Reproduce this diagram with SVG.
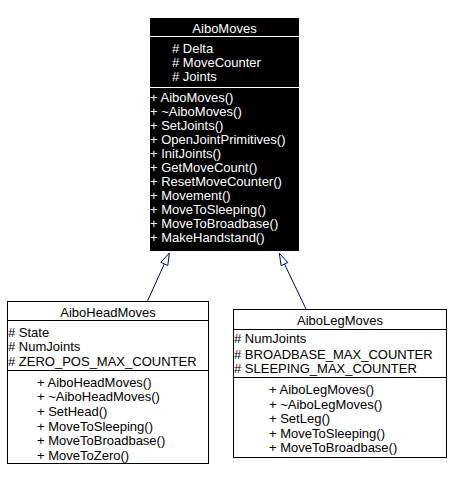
<svg xmlns="http://www.w3.org/2000/svg" width="452" height="481" viewBox="0 0 452 481">
<style>
text{font-family:"Liberation Sans",Arial,sans-serif;font-size:13px}
.w{fill:#ffffff}
.k{fill:#000000}
.c{text-anchor:middle}
.box{fill:#ffffff;stroke:#000000;stroke-width:1}
.sep{stroke:#000000;stroke-width:1}
.sepw{stroke:#ffffff;stroke-width:1}
.edge{stroke:#000080;stroke-width:1;fill:none}
.head{stroke:#000080;stroke-width:1;fill:#ffffff}
</style>
<rect width="452" height="481" fill="#ffffff"/>
<g id="AiboMoves">
<rect x="150" y="18" width="149" height="233" fill="#000000"/>
<line class="sepw" x1="150" y1="36.5" x2="299" y2="36.5"/>
<line class="sepw" x1="150" y1="87.5" x2="299" y2="87.5"/>
<text class="w c" x="224.5" y="32.5">AiboMoves</text>
<text class="w" x="172" y="53">
<tspan x="172" y="53"># Delta</tspan>
<tspan x="172" y="67"># MoveCounter</tspan>
<tspan x="172" y="81"># Joints</tspan>
</text>
<text class="w">
<tspan x="150" y="101.5">+ AiboMoves()</tspan>
<tspan x="150" y="115.5">+ ~AiboMoves()</tspan>
<tspan x="150" y="129.5">+ SetJoints()</tspan>
<tspan x="150" y="143.5">+ OpenJointPrimitives()</tspan>
<tspan x="150" y="157.5">+ InitJoints()</tspan>
<tspan x="150" y="171.5">+ GetMoveCount()</tspan>
<tspan x="150" y="185.5">+ ResetMoveCounter()</tspan>
<tspan x="150" y="199.5">+ Movement()</tspan>
<tspan x="150" y="213.5">+ MoveToSleeping()</tspan>
<tspan x="150" y="227.5">+ MoveToBroadbase()</tspan>
<tspan x="150" y="241.5">+ MakeHandstand()</tspan>
</text>
</g>
<g id="AiboHeadMoves">
<rect class="box" x="7.5" y="301.5" width="201" height="162"/>
<line class="sep" x1="7.5" y1="320.5" x2="208.5" y2="320.5"/>
<line class="sep" x1="7.5" y1="370.5" x2="208.5" y2="370.5"/>
<text class="k c" x="108" y="316.5">AiboHeadMoves</text>
<text class="k">
<tspan x="8" y="336.5"># State</tspan>
<tspan x="8" y="351">#&#160;NumJoints</tspan>
<tspan x="8" y="365.5"># ZERO_POS_MAX_COUNTER</tspan>
</text>
<text class="k">
<tspan x="37" y="386.5">+ AiboHeadMoves()</tspan>
<tspan x="37" y="401">+ ~AiboHeadMoves()</tspan>
<tspan x="37" y="415.8">+ SetHead()</tspan>
<tspan x="37" y="430.5">+ MoveToSleeping()</tspan>
<tspan x="37" y="445.2">+ MoveToBroadbase()</tspan>
<tspan x="37" y="460">+ MoveToZero()</tspan>
</text>
</g>
<g id="AiboLegMoves">
<rect class="box" x="233.5" y="309.5" width="213" height="148"/>
<line class="sep" x1="233.5" y1="329.5" x2="446.5" y2="329.5"/>
<line class="sep" x1="233.5" y1="377.5" x2="446.5" y2="377.5"/>
<text class="k c" x="340" y="324.5">AiboLegMoves</text>
<text class="k">
<tspan x="234" y="343"># NumJoints</tspan>
<tspan x="234" y="358.5"># BROADBASE_MAX_COUNTER</tspan>
<tspan x="234" y="373"># SLEEPING_MAX_COUNTER</tspan>
</text>
<text class="k">
<tspan x="269" y="394">+ AiboLegMoves()</tspan>
<tspan x="269" y="408.5">+ ~AiboLegMoves()</tspan>
<tspan x="269" y="423">+ SetLeg()</tspan>
<tspan x="269" y="437.5">+ MoveToSleeping()</tspan>
<tspan x="269" y="452">+ MoveToBroadbase()</tspan>
</text>
</g>
<g id="connectors">
<line class="edge" x1="147.5" y1="301" x2="164.3" y2="263.9"/>
<polygon class="head" points="169.3,253 167.8,265.5 160.9,262.3"/>
<line class="edge" x1="306" y1="309" x2="284.5" y2="264.1"/>
<polygon class="head" points="279.3,253.3 287.9,262.5 281.1,265.7"/>
</g>
</svg>
